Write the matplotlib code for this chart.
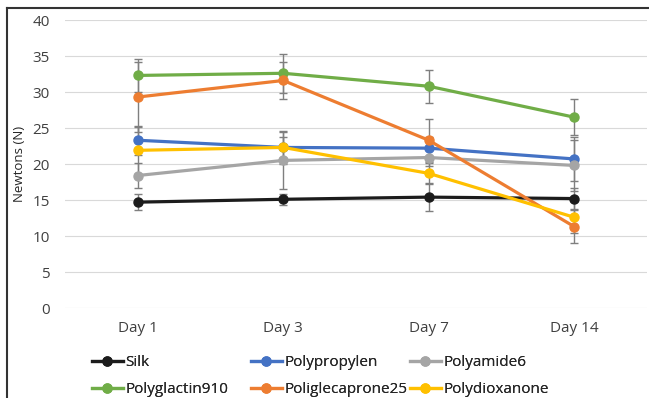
import matplotlib
matplotlib.use("Agg")
import matplotlib.pyplot as plt
from matplotlib.lines import Line2D
import numpy as np

plt.rcParams['font.family'] = ['Open Sans', 'DejaVu Sans']

days = ["Day 1", "Day 3", "Day 7", "Day 14"]
series_names = ["Silk", "Polypropylen", "Polyamide6",
                "Polyglactin910", "Poliglecaprone25", "Polydioxanone"]
silk = [14.7, 15.1, 15.4, 15.2]
polypropylen = [23.3, 22.3, 22.2, 20.7]
polyamide6 = [18.4, 20.5, 20.9, 19.8]
polyglactin910 = [32.3, 32.6, 30.8, 26.5]
poliglecaprone25 = [29.3, 31.6, 23.3, 11.3]
polydioxanone = [21.9, 22.3, 18.7, 12.6]

silk_err = [1.1, 0.8, 1.9, 1.4]
polypropylen_err = [2.0, 1.5, 1.5, 3.0]
polyamide6_err = [1.8, 4.0, 1.2, 3.5]
polyglactin910_err = [2.3, 2.7, 2.3, 2.5]
poliglecaprone25_err = [4.9, 2.6, 3.0, 2.3]
polydioxanone_err = [3.3, 2.3, 1.5, 2.2]

values = [silk, polypropylen, polyamide6, polyglactin910, poliglecaprone25, polydioxanone]
errors = [silk_err, polypropylen_err, polyamide6_err, polyglactin910_err,
          poliglecaprone25_err, polydioxanone_err]
colors = ["#1c1c1c", "#4472C4", "#A5A5A5", "#70AD47", "#ED7D31", "#FFC000"]

W, H = 649, 398
fig = plt.figure(figsize=(W / 100, H / 100), dpi=100)
ax = fig.add_axes([65 / W, 1 - 308 / H, (647 - 65) / W, (308 - 20) / H])

x = np.arange(len(days))
handles = []
for i, (name, vals, errs, c) in enumerate(zip(series_names, values, errors, colors)):
    ax.errorbar(x, vals, yerr=errs, fmt='none', ecolor="#7f7f7f", elinewidth=1.0,
                capsize=3, capthick=1.0, zorder=2 + i * 0.1)
    h, = ax.plot(x, vals, color=c, lw=2.3, marker='o', markersize=6.5,
                 label=name, zorder=3 + i * 0.1)
    handles.append(h)

ax.set_xlim(-0.5, len(days) - 0.5)
ax.set_ylim(0, 40)
ax.set_yticks(np.arange(0, 41, 5))
ax.set_xticks(x)
ax.set_xticklabels(days)
ax.grid(axis='y', color='#d9d9d9', lw=0.8)
ax.set_axisbelow(True)
for s in ax.spines.values():
    s.set_visible(False)
ax.tick_params(axis='both', length=0, labelsize=11, labelcolor='#404040')
ax.tick_params(axis='y', pad=11)
ax.tick_params(axis='x', pad=9)
ax.set_ylabel("Newtons (N)", fontsize=9.5, color='#262626')
ax.yaxis.set_label_coords((26 - 65) / 582, 0.5)

# legends: three equal-width columns
col_x = [92, 251, 410]
for k in range(3):
    hs = [handles[k], handles[k + 3]]
    leg = fig.legend(handles=hs, labels=[h.get_label() for h in hs],
                     loc='center left', bbox_to_anchor=(col_x[k] / W, 1 - 376 / H),
                     frameon=False, borderpad=0, borderaxespad=0,
                     handlelength=2.0, handletextpad=0.2, labelspacing=0.8,
                     fontsize=11, labelcolor='#262626')
    fig.add_artist(leg)

# outer chart border (top and left visible)
fig.add_artist(Line2D([7 / W, 7 / W], [0, 1 - 8 / H], transform=fig.transFigure,
                      color='#333333', lw=1.5))
fig.add_artist(Line2D([7 / W, 1], [1 - 8 / H, 1 - 8 / H], transform=fig.transFigure,
                      color='#333333', lw=1.5))

fig.savefig("out.png", dpi=100)
